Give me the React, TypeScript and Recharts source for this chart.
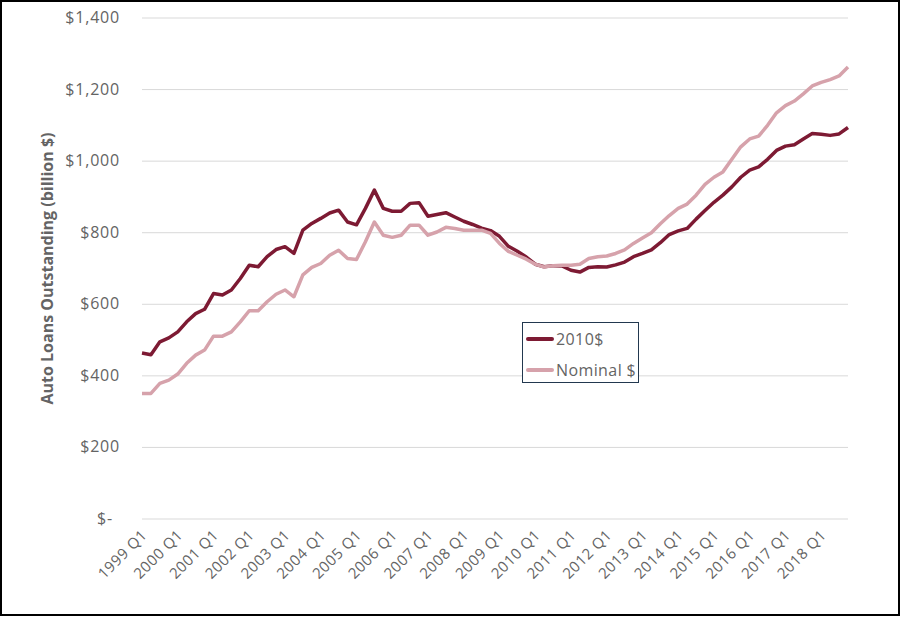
import React from "react";
import { LineChart, Line, XAxis, YAxis, CartesianGrid, Legend } from "recharts";

// Quarterly auto loans outstanding, billion $, 1999 Q1 .. 2018 Q4
const years = [
  1999, 2000, 2001, 2002, 2003, 2004, 2005, 2006, 2007, 2008,
  2009, 2010, 2011, 2012, 2013, 2014, 2015, 2016, 2017, 2018,
];
const quarters = ["Q1", "Q2", "Q3", "Q4"];

const real2010 = [
  464, 459, 495, 506, 523, 551, 574, 586, 630, 626,
  640, 672, 709, 705, 733, 753, 761, 742, 807, 826,
  840, 855, 863, 830, 822, 868, 919, 868, 860, 860,
  882, 884, 846, 851, 856, 844, 832, 823, 813, 806,
  790, 762, 748, 732, 712, 705, 708, 707, 695, 690,
  703, 705, 704, 710, 718, 733, 742, 752, 772, 795,
  805, 812, 838, 862, 885, 905, 928, 955, 975, 984,
  1005, 1030, 1042, 1046, 1062, 1077, 1075, 1072, 1076, 1094,
];

const nominal = [
  351, 351, 379, 388, 405, 435, 458, 472, 511, 511,
  523, 551, 582, 582, 607, 628, 640, 621, 682, 703,
  714, 737, 751, 728, 725, 775, 830, 793, 787, 793,
  821, 821, 793, 802, 815, 812, 807, 807, 807, 798,
  770, 748, 737, 726, 712, 704, 708, 709, 709, 712,
  728, 733, 735, 742, 752, 770, 785, 800, 825, 848,
  868, 880, 905, 935, 955, 970, 1005, 1040, 1062, 1070,
  1100, 1135, 1155, 1168, 1188, 1210, 1220, 1228, 1238, 1263,
];

const yTicks = [0, 200, 400, 600, 800, 1000, 1200, 1400];

const DARK = "#7d1a33";
const LIGHT = "#d6a2ab";
const GRAY = "#646464";
const FONT = "'Open Sans', 'Noto Sans', sans-serif";

const periods: string[] = [];
years.forEach((y) => quarters.forEach((q) => periods.push(`${y} ${q}`)));

const data = periods.map((p, i) => ({
  period: p,
  real: real2010[i],
  nominal: nominal[i],
}));

const YTick = ({ x, y, payload }: any) => {
  const v = payload.value as number;
  const label = v === 0 ? "$-" : "$" + v.toLocaleString("en-US");
  return (
    <text x={v === 0 ? x - 7 : x} y={y} dy={5} textAnchor="end" fill={GRAY}
          fontSize={16} fontFamily={FONT} letterSpacing={0.8}>
      {label}
    </text>
  );
};

const XTick = ({ x, y, payload }: any) => (
  <text transform={`translate(${x + 6},${y + 17}) rotate(-45)`} textAnchor="end"
        fill={GRAY} fontSize={15} fontFamily={FONT} letterSpacing={0.5}>
    {payload.value}
  </text>
);

const YTitle = ({ viewBox }: any) => (
  <text transform={`translate(47,${viewBox.y + viewBox.height / 2}) rotate(-90)`}
        textAnchor="middle" dominantBaseline="central" fill={GRAY}
        fontSize={16} fontWeight="bold" fontFamily={FONT}>
    Auto Loans Outstanding (billion $)
  </text>
);

const LegendBox = () => {
  const items = [
    { name: "2010$", color: DARK },
    { name: "Nominal $", color: LIGHT },
  ];
  return (
    <div style={{ fontFamily: FONT }}>
      {items.map((it) => (
        <div key={it.name} style={{ display: "flex", alignItems: "center", height: 31 }}>
          <span style={{ display: "inline-block", width: 28, height: 4, marginLeft: 3,
                         background: it.color, borderRadius: 2 }} />
          <span style={{ marginLeft: 2, fontSize: 16, color: GRAY, letterSpacing: 0.4 }}>
            {it.name}
          </span>
        </div>
      ))}
    </div>
  );
};

export default function App() {
  return (
    <div style={{ position: "absolute", left: 0, top: 0, width: 900, height: 616,
                  border: "2px solid #000", boxSizing: "border-box", background: "#fff" }}>
      <div style={{ position: "absolute", left: -2, top: -2 }}>
        <LineChart width={901} height={617} data={data}
                   margin={{ top: 18, right: 53, bottom: 38, left: 30 }}>
          <CartesianGrid vertical={false} stroke="#d9d9d9" />
          <XAxis dataKey="period" interval={3} tick={<XTick />} tickSize={0} tickMargin={0}
                 axisLine={false} tickLine={false} height={60} />
          <YAxis domain={[0, 1400]} ticks={yTicks} tick={<YTick />} width={112}
                 tickSize={0} tickMargin={22} axisLine={false} tickLine={false}
                 label={{ content: <YTitle /> }} />
          <Legend layout="vertical" align="center" verticalAlign="middle" content={<LegendBox />}
                  wrapperStyle={{ left: 522, top: 322, width: 117, height: 61, border: "1px solid #22384f",
                                  background: "#fff", boxSizing: "border-box" }} />
          <Line type="linear" dataKey="real" name="2010$" stroke={DARK} strokeWidth={3.5}
                dot={false} strokeLinejoin="round" isAnimationActive={false} />
          <Line type="linear" dataKey="nominal" name="Nominal $" stroke={LIGHT} strokeWidth={3.5}
                dot={false} strokeLinejoin="round" isAnimationActive={false} />
        </LineChart>
      </div>
    </div>
  );
}
